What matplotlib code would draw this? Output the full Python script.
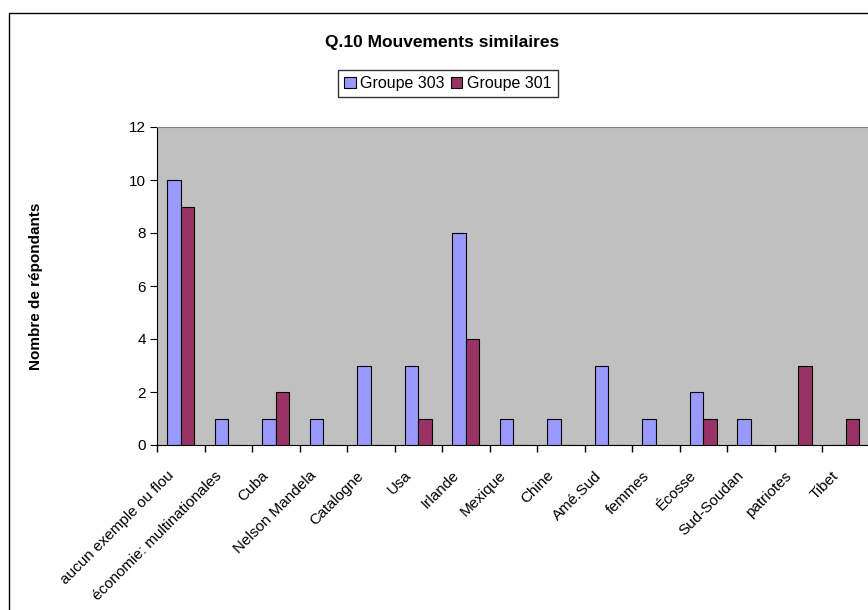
import numpy as np
import matplotlib.pyplot as plt
from matplotlib.patches import Rectangle
from matplotlib.ticker import FixedLocator
from matplotlib.transforms import ScaledTranslation

plt.rcParams['font.family'] = ['Liberation Sans', 'DejaVu Sans']

# Data
categories = ['aucun exemple ou flou', 'économie: multinationales', 'Cuba', 'Nelson Mandela',
              'Catalogne', 'Usa', 'Irlande', 'Mexique', 'Chine', 'Amé.Sud', 'femmes',
              'Écosse', 'Sud-Soudan', 'patriotes', 'Tibet']
groupe_303 = [10, 1, 1, 1, 3, 3, 8, 1, 1, 3, 1, 2, 1, 0, 0]
groupe_301 = [9, 0, 2, 0, 0, 1, 4, 0, 0, 0, 0, 1, 0, 3, 1]
series_names = ['Groupe 303', 'Groupe 301']
colors = ['#9999FF', '#993366']

fig = plt.figure(figsize=(8.68, 6.10), dpi=100)
W, H = 868, 610

# chart border (runs past right and bottom edges)
fig.patches.append(Rectangle((9 / W, -0.1), 1.2, 1 - 13 / H + 0.1, transform=fig.transFigure,
                             fill=False, edgecolor='black', linewidth=1.0))

ax = fig.add_axes([157 / W, 1 - 445 / H, (869.5 - 157) / W, (445 - 127) / H])
ax.set_facecolor('#C0C0C0')

x = np.arange(len(categories))
w = 1 / 3.5
ax.bar(x - w / 2, groupe_303, w, color=colors[0], edgecolor='black', linewidth=0.8,
       label=series_names[0], zorder=3)
ax.bar(x + w / 2, groupe_301, w, color=colors[1], edgecolor='black', linewidth=0.8,
       label=series_names[1], zorder=3)

ax.set_xlim(-0.5, len(categories) - 0.5)
ax.set_ylim(0, 12)
ax.set_yticks(range(0, 13, 2))
ax.set_xticks(x)
ax.set_xticklabels(categories, rotation=45, ha='right', rotation_mode='anchor', fontsize=11)
ax.xaxis.set_minor_locator(FixedLocator(np.arange(-0.5, len(categories), 1)))
ax.tick_params(axis='x', which='major', length=0, pad=9)
ax.tick_params(axis='x', which='minor', length=5, direction='out', width=1)
ax.tick_params(axis='y', length=5, direction='out', labelsize=11, pad=3)

# nudge rotated labels down-left like the original
offset = ScaledTranslation(-0.14, -0.11, fig.dpi_scale_trans)
for lab in ax.get_xticklabels():
    lab.set_transform(lab.get_transform() + offset)

for s in ['top', 'right']:
    ax.spines[s].set_color('#808080')
for s in ['left', 'bottom']:
    ax.spines[s].set_color('black')

ax.set_ylabel('Nombre de répondants', fontsize=11, fontweight='bold')
ax.yaxis.set_label_coords((43 - 157) / (869.5 - 157), 0.5)

fig.text(442 / W, 1 - 42 / H, 'Q.10 Mouvements similaires', ha='center', va='center',
         fontsize=12.5, fontweight='bold')

leg = fig.legend(loc='center', bbox_to_anchor=(448 / W, 1 - 83.5 / H), ncol=2, fontsize=11.5,
                 frameon=True, fancybox=False, edgecolor='black', handlelength=0.7,
                 handleheight=0.7, handletextpad=0.3, columnspacing=0.4, borderpad=0.4,
                 borderaxespad=0)
leg.get_frame().set_linewidth(1.0)

fig.savefig('out.png', dpi=100)
